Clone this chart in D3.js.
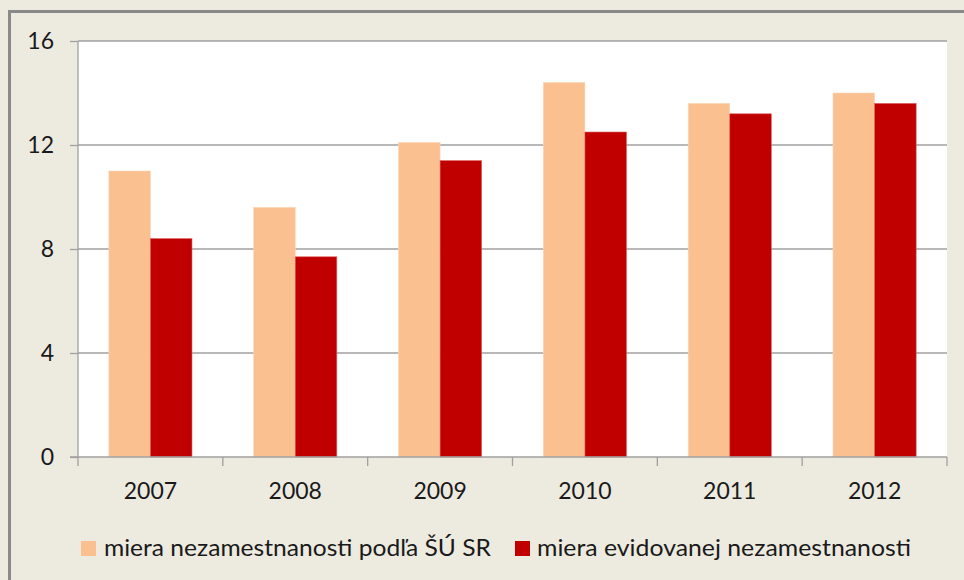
<!DOCTYPE html>
<html><head><meta charset="utf-8">
<script src="https://cdn.jsdelivr.net/npm/d3@7"></script>
<style>body{margin:0;background:#fff}svg{display:block}</style>
</head><body>
<script>
const years = ["2007","2008","2009","2010","2011","2012"];
const seriesNames = ["miera nezamestnanosti podľa ŠÚ SR","miera evidovanej nezamestnanosti"];
const suSr = [11.0, 9.6, 12.1, 14.4, 13.6, 14.0];
const evid = [8.4, 7.7, 11.4, 12.5, 13.2, 13.6];
const yTicks = [0,4,8,12,16];
const colors = ["#FAC090","#C00000"];

const W=964,H=580;
const svg=d3.select("body").append("svg").attr("width",W).attr("height",H);
svg.append("rect").attr("width",W).attr("height",H).attr("fill","#EDEAE0");
// outer border
svg.append("rect").attr("x",9.5).attr("y",11.5).attr("width",W+20).attr("height",H+20)
  .attr("fill","none").attr("stroke","#8a8a8a").attr("stroke-width",3);

const L=78,T=41,R=947,B=457;
svg.append("rect").attr("x",L).attr("y",T).attr("width",R-L).attr("height",B-T).attr("fill","#fff");

const x=d3.scaleBand().domain(years).range([L,R]).paddingInner(0).paddingOuter(0);
const y=d3.scaleLinear().domain([0,16]).range([B,T]);
const font="Lato, 'Open Sans', sans-serif";

// gridlines
svg.append("g").selectAll("line").data(yTicks.filter(d=>d>0)).join("line")
  .attr("x1",L).attr("x2",R).attr("y1",d=>y(d)).attr("y2",d=>y(d))
  .attr("stroke","#a0a0a0").attr("stroke-width",1.3);

// y axis
const ya=svg.append("g").attr("transform",`translate(${L},0)`)
  .call(d3.axisLeft(y).tickValues(yTicks).tickSize(8).tickPadding(16));
ya.select(".domain").attr("stroke","#a0a0a0").attr("stroke-width",1.3).attr("d",`M0,${T}V${B}`);
ya.selectAll(".tick line").attr("stroke","#a0a0a0").attr("stroke-width",1.3);
ya.selectAll(".tick text").attr("font-family",font).attr("font-size",23).attr("fill","#1a1a1a");

// bars
const bw=x.bandwidth()*0.287;
const off=(x.bandwidth()-2*bw)/2;
[suSr,evid].forEach((vals,si)=>{
  svg.append("g").selectAll("rect").data(vals).join("rect")
    .attr("x",(d,i)=>x(years[i])+off+si*bw)
    .attr("y",d=>y(d)).attr("width",bw).attr("height",d=>B-y(d))
    .attr("fill",colors[si]).attr("stroke",si===0?"#fcd8b8":"#e06060").attr("stroke-width",0.6);
});

// x axis
const xa=svg.append("g").attr("transform",`translate(0,${B})`)
  .call(d3.axisBottom(x).tickSize(0).tickPadding(26));
xa.select(".domain").attr("stroke","#a0a0a0").attr("stroke-width",1.3).attr("d",`M${L-8},0H${R}`);
xa.selectAll(".tick text").attr("font-family",font).attr("font-size",23).attr("fill","#1a1a1a");
svg.append("g").selectAll("line").data(d3.range(years.length+1)).join("line")
  .attr("x1",i=>L+i*x.step()).attr("x2",i=>L+i*x.step()).attr("y1",B).attr("y2",B+9)
  .attr("stroke","#a0a0a0").attr("stroke-width",1.3);

// legend
const lg=[{x:81,tx:104,tw:387},{x:515,tx:537,tw:374}];
lg.forEach((g,i)=>{
  svg.append("rect").attr("x",g.x).attr("y",541).attr("width",15).attr("height",15).attr("fill",colors[i]);
  svg.append("text").attr("x",g.tx).attr("y",556).attr("font-family",font).attr("font-size",24)
    .attr("fill","#1a1a1a").attr("textLength",g.tw).attr("lengthAdjust","spacingAndGlyphs").text(seriesNames[i]);
});
</script>
</body></html>
